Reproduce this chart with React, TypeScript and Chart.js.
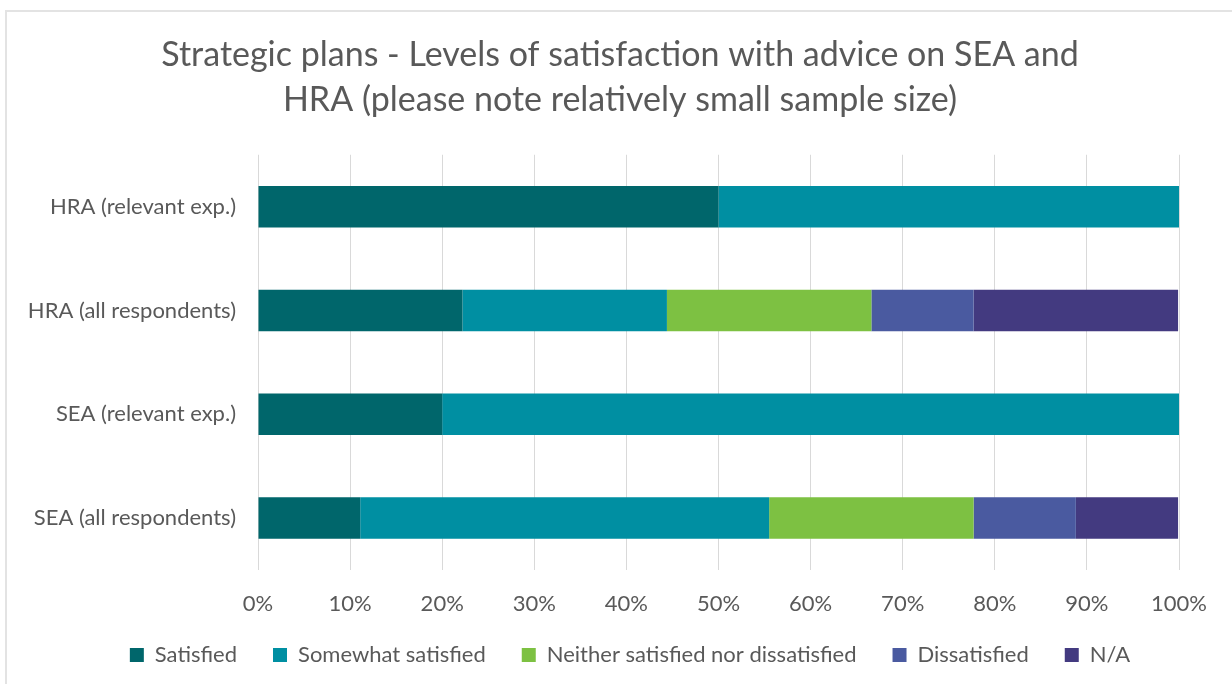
import React, { useEffect, useRef } from "react";
import { Chart, registerables } from "chart.js";

Chart.register(...registerables);

const categories = [
  "HRA (relevant exp.)",
  "HRA (all respondents)",
  "SEA (relevant exp.)",
  "SEA (all respondents)",
];

const satisfied = [50, 22.2, 20, 11.1];
const somewhatSatisfied = [50, 22.2, 80, 44.4];
const neither = [0, 22.2, 0, 22.2];
const dissatisfied = [0, 11.1, 0, 11.1];
const notApplicable = [0, 22.2, 0, 11.1];

const seriesNames = [
  "Satisfied",
  "Somewhat satisfied",
  "Neither satisfied nor dissatisfied",
  "Dissatisfied",
  "N/A",
];
const seriesColors = ["#00666B", "#008FA2", "#7DC142", "#4A5AA0", "#433A80"];

const titleLines = [
  "Strategic plans - Levels of satisfaction with advice on SEA and",
  "HRA (please note relatively small sample size)",
];

const FONT = "Lato";
const TEXT = "#595959";

// nudge the legend so it sits closer to the axis labels, as in the reference
const legendNudge = {
  id: "legendNudge",
  afterLayout(chart: any) {
    const lg = chart.legend;
    if (lg) {
      lg.top -= 10;
      lg.bottom -= 10;
      lg.left += 10;
      lg.right += 10;
    }
  },
};

export default function App() {
  const ref = useRef<HTMLCanvasElement | null>(null);

  useEffect(() => {
    if (!ref.current) return;
    const values = [satisfied, somewhatSatisfied, neither, dissatisfied, notApplicable];
    const chart = new Chart(ref.current, {
      type: "bar",
      data: {
        labels: categories,
        datasets: values.map((v, i) => ({
          label: seriesNames[i],
          data: v,
          backgroundColor: seriesColors[i],
          borderWidth: 0,
          categoryPercentage: 0.4,
          barPercentage: 1,
        })),
      },
      plugins: [legendNudge],
      options: {
        indexAxis: "y",
        animation: false,
        responsive: false,
        maintainAspectRatio: false,
        layout: { padding: { left: 8, right: 0, top: 0, bottom: -2 } },
        plugins: {
          tooltip: { enabled: false },
          title: {
            display: true,
            text: titleLines,
            color: TEXT,
            font: { family: FONT, size: 34, weight: "normal", lineHeight: 1.32 },
            padding: { top: 33, bottom: 32 },
          },
          legend: {
            position: "bottom",
            labels: {
              color: TEXT,
              font: { family: FONT, size: 22 },
              boxWidth: 14,
              boxHeight: 14,
              padding: 36,
            },
          },
        },
        scales: {
          x: {
            stacked: true,
            min: 0,
            max: 100,
            border: { display: false },
            grid: { color: "#D9D9D9", drawTicks: false, lineWidth: 1 },
            ticks: {
              stepSize: 10,
              padding: 21,
              color: TEXT,
              font: { family: FONT, size: 22 },
              callback: (v: any) => v + "%",
            },
            afterFit: (s: any) => {
              s.height = 48;
            },
          },
          y: {
            stacked: true,
            border: { display: false },
            grid: { display: false, drawTicks: false },
            ticks: {
              padding: 22,
              color: TEXT,
              font: { family: FONT, size: 22 },
            },
            afterFit: (s: any) => {
              s.width = 250;
            },
          },
          yRightSpace: {
            type: "category",
            position: "right",
            display: true,
            border: { display: false },
            grid: { display: false, drawTicks: false },
            ticks: { display: false },
            afterFit: (s: any) => {
              s.width = 53;
            },
          },
        },
      },
    });
    return () => chart.destroy();
  }, []);

  return (
    <div
      style={{
        position: "fixed",
        left: 0,
        top: 0,
        width: 1232,
        height: 684,
        background: "#fff",
        overflow: "hidden",
      }}
    >
      <div
        style={{
          position: "absolute",
          left: 5,
          top: 10,
          width: 1300,
          height: 800,
          borderLeft: "2px solid #E3E3E3",
          borderTop: "2px solid #E3E3E3",
        }}
      />
      <canvas
        ref={ref}
        width={1232}
        height={684}
        style={{ position: "absolute", left: 0, top: 0, width: 1232, height: 684 }}
      />
    </div>
  );
}
